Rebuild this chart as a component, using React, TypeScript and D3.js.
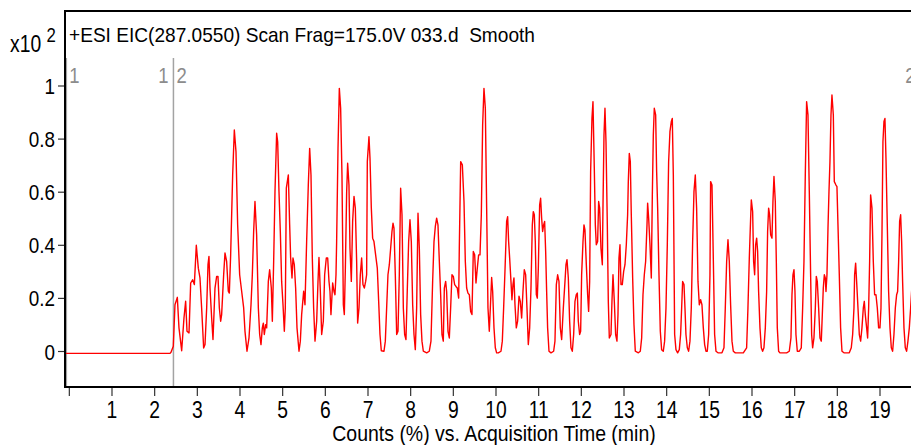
import React, { useEffect, useRef } from "react";
import * as d3 from "d3";

const width = 911;
const height = 445;
const frame = { left: 65, top: 11, right: 911, bottom: 387 };

// acquisition time (min) / counts (x10^2)
const retentionTime = [
  -0.1, 2.36, 2.383, 2.437, 2.476, 2.531, 2.57, 2.633, 2.687, 2.726, 2.758, 2.805, 2.844, 2.89, 2.93,
  2.976, 3.023, 3.062, 3.101, 3.148, 3.18, 3.219, 3.25, 3.273, 3.297, 3.336, 3.367, 3.414, 3.453,
  3.484, 3.516, 3.547, 3.57, 3.617, 3.648, 3.687, 3.726, 3.75, 3.781, 3.828, 3.867, 3.906, 3.945,
  3.992, 4.039, 4.086, 4.117, 4.164, 4.211, 4.258, 4.289, 4.32, 4.351, 4.39, 4.43, 4.461, 4.492,
  4.523, 4.547, 4.57, 4.601, 4.625, 4.664, 4.695, 4.734, 4.758, 4.789, 4.82, 4.859, 4.883, 4.914,
  4.945, 4.976, 5.008, 5.039, 5.062, 5.086, 5.133, 5.164, 5.187, 5.219, 5.242, 5.273, 5.304, 5.336,
  5.383, 5.414, 5.445, 5.492, 5.523, 5.562, 5.601, 5.633, 5.664, 5.695, 5.726, 5.758, 5.797, 5.828,
  5.851, 5.883, 5.914, 5.953, 5.984, 6.023, 6.055, 6.086,
  6.109, 6.132, 6.172, 6.203, 6.226, 6.25, 6.265, 6.297, 6.328, 6.359, 6.39, 6.422, 6.445, 6.468,
  6.5, 6.523, 6.554, 6.578, 6.609, 6.64, 6.672, 6.703, 6.734, 6.757, 6.789, 6.82, 6.851, 6.882,
  6.914, 6.945, 6.968, 6.984, 7.023, 7.047, 7.078, 7.109, 7.14, 7.179, 7.218, 7.25, 7.281, 7.312,
  7.375, 7.406, 7.437, 7.468, 7.5, 7.531, 7.562, 7.586, 7.609, 7.64, 7.672, 7.703, 7.734, 7.765,
  7.797, 7.828, 7.859, 7.89, 7.922, 7.953, 7.984, 8.015, 8.047, 8.078, 8.109, 8.14, 8.172, 8.203,
  8.234, 8.265, 8.297, 8.375, 8.437, 8.476, 8.515, 8.547, 8.578, 8.609, 8.64, 8.672, 8.703, 8.734,
  8.765, 8.789, 8.82, 8.843, 8.875, 8.906, 8.937, 8.968, 9.0, 9.031, 9.062, 9.093, 9.125, 9.14,
  9.172, 9.211, 9.25, 9.281, 9.312, 9.343, 9.375, 9.406, 9.437, 9.468, 9.5, 9.531, 9.562, 9.593,
  9.625, 9.656, 9.687, 9.718, 9.75, 9.781, 9.812, 9.843, 9.867, 9.898, 9.922, 9.953, 9.984, 10.015,
  10.054, 10.117, 10.148, 10.179, 10.21, 10.249, 10.273, 10.296, 10.32, 10.351, 10.374, 10.398,
  10.421, 10.445, 10.476, 10.507, 10.539, 10.57, 10.601, 10.632, 10.663, 10.695, 10.726, 10.757,
  10.789, 10.82, 10.851, 10.874, 10.898, 10.921, 10.945, 10.968, 10.992, 11.023, 11.046, 11.07,
  11.093, 11.117, 11.14, 11.164, 11.187, 11.21, 11.242, 11.289, 11.351, 11.382, 11.414, 11.445,
  11.476, 11.507, 11.539, 11.578, 11.617, 11.64, 11.664, 11.695, 11.726, 11.757, 11.789, 11.82,
  11.851, 11.882, 11.906, 11.929, 11.96, 11.984, 12.007, 12.039, 12.062, 12.085, 12.117, 12.148,
  12.171, 12.195, 12.218, 12.249, 12.273, 12.304, 12.328, 12.351, 12.382, 12.406, 12.429, 12.46,
  12.492, 12.507, 12.531, 12.554, 12.578, 12.609, 12.632, 12.656, 12.695, 12.718, 12.742, 12.773,
  12.804, 12.835, 12.859, 12.882, 12.906, 12.929, 12.96, 12.992, 13.023, 13.054, 13.085, 13.101,
  13.124, 13.148, 13.171, 13.203, 13.234, 13.265, 13.336, 13.382, 13.414, 13.445, 13.476, 13.507,
  13.539, 13.554, 13.578, 13.609, 13.64, 13.664, 13.687, 13.71, 13.742, 13.765, 13.789, 13.82,
  13.851, 13.882,
  13.921, 13.952, 13.984, 14.015, 14.046, 14.077, 14.109, 14.132, 14.156, 14.187, 14.218, 14.257,
  14.296, 14.327, 14.351, 14.374, 14.406, 14.429, 14.452, 14.484, 14.515, 14.546, 14.577, 14.609,
  14.64, 14.671, 14.702, 14.734, 14.765, 14.796, 14.827, 14.859, 14.89, 14.921, 14.952, 14.984,
  15.015, 15.03, 15.062, 15.093, 15.124, 15.156, 15.202, 15.296, 15.343, 15.374, 15.406, 15.437,
  15.468, 15.499, 15.531, 15.562, 15.609, 15.796, 15.874, 15.905, 15.937, 15.968, 15.984, 16.015,
  16.038, 16.062, 16.085, 16.109, 16.132, 16.155, 16.187, 16.218, 16.249, 16.28, 16.312, 16.343,
  16.366, 16.39, 16.413, 16.437, 16.468, 16.491, 16.515, 16.546, 16.57, 16.593, 16.624, 16.655,
  16.812, 16.874, 16.913, 16.937, 16.96, 16.984, 17.007, 17.03, 17.062, 17.109, 17.155, 17.187,
  17.218, 17.249, 17.28, 17.312, 17.343, 17.374, 17.398, 17.421, 17.452, 17.484, 17.507, 17.53,
  17.562, 17.593, 17.624, 17.648, 17.671, 17.695, 17.718,
  17.734, 17.757, 17.781, 17.804, 17.827, 17.851, 17.874, 17.906, 17.929, 17.968, 17.991, 18.015,
  18.046, 18.077, 18.109, 18.155, 18.28, 18.327, 18.359, 18.39, 18.405, 18.429, 18.452, 18.484,
  18.515, 18.546, 18.577, 18.609, 18.632, 18.655, 18.687, 18.71, 18.734, 18.757, 18.78, 18.812,
  18.843, 18.874, 18.905, 18.937, 18.968, 18.999, 19.023, 19.046, 19.069, 19.093, 19.116, 19.14,
  19.171, 19.202, 19.234, 19.265, 19.296, 19.327, 19.359, 19.39, 19.413, 19.437, 19.46, 19.484,
  19.507, 19.53, 19.562, 19.593, 19.624, 19.655, 19.687, 19.718, 19.75,
];

const relCounts = [
  -0.007, -0.007, -0.003, 0.02, 0.176, 0.204, 0.089, 0.003, 0.126, 0.189, 0.076, 0.07, 0.258, 0.27, 0.252,
  0.4, 0.314, 0.277, 0.164, 0.013, 0.026, 0.164, 0.327, 0.358, 0.239, 0.126, 0.045, 0.239, 0.283,
  0.283, 0.164, 0.114, 0.139, 0.289, 0.371, 0.339, 0.227, 0.22, 0.364, 0.665, 0.834, 0.753, 0.477,
  0.289, 0.227, 0.164, 0.076, 0.001, 0.051, 0.176, 0.289, 0.452, 0.565, 0.44, 0.164, 0.064, 0.026,
  0.089, 0.107, 0.064, 0.101, 0.089, 0.264, 0.308, 0.239, 0.114, 0.339, 0.602, 0.822, 0.79, 0.602,
  0.452, 0.264, 0.176, 0.076, 0.164, 0.615, 0.665, 0.477, 0.352, 0.277, 0.352, 0.327, 0.239, 0.089,
  0.001, 0.039, 0.139, 0.227, 0.176, 0.414, 0.627, 0.765, 0.665, 0.352, 0.164, 0.039, 0.114, 0.264,
  0.354, 0.227, 0.064, 0.114, 0.289, 0.352, 0.352, 0.264,
  0.226, 0.139, 0.258, 0.226, 0.214, 0.289, 0.414, 0.765, 0.991, 0.916, 0.665, 0.176, 0.139, 0.302,
  0.602, 0.709, 0.627, 0.389, 0.264, 0.49, 0.584, 0.54, 0.339, 0.107, 0.164, 0.289, 0.352, 0.252,
  0.239, 0.264, 0.289, 0.715, 0.809, 0.728, 0.54, 0.427, 0.414, 0.364, 0.314, 0.189, 0.064, 0.003,
  0.001, 0.039, 0.164, 0.289, 0.327, 0.389, 0.452, 0.483, 0.465, 0.289, 0.064, 0.076, 0.289, 0.615,
  0.515, 0.164, 0.064, 0.045, 0.239, 0.414, 0.496, 0.414, 0.176, 0.064, 0.007, 0.164, 0.521, 0.389,
  0.139, 0.039, 0.001, -0.005, 0.001, 0.039, 0.264, 0.414, 0.471, 0.502, 0.477, 0.339, 0.214, 0.064,
  0.039, 0.239, 0.264, 0.226, 0.076, 0.051, 0.164, 0.289, 0.283, 0.252, 0.245, 0.239, 0.201, 0.389,
  0.715, 0.703, 0.565, 0.339, 0.239, 0.22, 0.214, 0.151, 0.139, 0.377, 0.364, 0.258, 0.314, 0.364,
  0.364, 0.515, 0.853, 0.991, 0.916, 0.54, 0.164, 0.076, 0.164, 0.279, 0.226, 0.089, 0.014, -0.005,
  -0.005, 0.001, 0.039, 0.164, 0.302, 0.49, 0.508, 0.414, 0.352, 0.264, 0.195, 0.252,
  0.277, 0.176, 0.089, 0.114, 0.208, 0.189, 0.126, 0.226, 0.308, 0.289, 0.164, 0.026,
  0.089, 0.239, 0.477, 0.527, 0.515, 0.414, 0.214, 0.201, 0.314, 0.552, 0.577, 0.502,
  0.452, 0.477, 0.49, 0.377, 0.226, 0.089, 0.001, -0.005, 0.001, 0.039, 0.252, 0.289,
  0.264, 0.089, 0.045, 0.164, 0.264, 0.327, 0.346, 0.277, 0.114, 0.014, 0.001, 0.064,
  0.189, 0.214, 0.22, 0.114, 0.064, 0.076, 0.289, 0.414, 0.477, 0.458, 0.327, 0.214,
  0.151, 0.264, 0.678, 0.878, 0.941, 0.69, 0.477, 0.402, 0.414, 0.565, 0.54, 0.389,
  0.327, 0.54, 0.815, 0.916, 0.79, 0.477, 0.189, 0.051, 0.064, 0.189, 0.289, 0.189,
  0.064, 0.039, 0.139, 0.352, 0.402, 0.252, 0.252, 0.302, 0.327, 0.402, 0.515, 0.64,
  0.746, 0.715, 0.515, 0.277, 0.101, 0.001, -0.005, 0.001, 0.051, 0.214, 0.289, 0.339,
  0.477, 0.559, 0.502, 0.402, 0.277, 0.59, 0.815, 0.916, 0.891, 0.678, 0.54, 0.289,
  0.076, 0.007,
  0.001, 0.039, 0.164, 0.402, 0.715, 0.828, 0.866, 0.878, 0.665, 0.064, 0.007, -0.005,
  0.007, 0.064, 0.164, 0.264, 0.252, 0.164, 0.064, 0.014, 0.001, 0.039, 0.164, 0.414,
  0.602, 0.665, 0.54, 0.264, 0.176, 0.195, 0.176, 0.089, 0.026, 0.001, 0.001, 0.064,
  0.289, 0.64, 0.627, 0.352, 0.064, 0.001, -0.005, -0.005, 0.014, 0.164, 0.339, 0.421,
  0.339, 0.176, 0.039, 0.001, -0.005, -0.005, 0.014, 0.164, 0.352, 0.502, 0.571, 0.527,
  0.339, 0.289, 0.402, 0.427, 0.377, 0.226, 0.089, 0.014, 0.001, 0.014, 0.089, 0.226,
  0.452, 0.54, 0.515, 0.44, 0.427, 0.565, 0.659, 0.565, 0.339, 0.089, 0.001, -0.005,
  -0.005, 0.001, 0.051, 0.214, 0.289, 0.308, 0.226, 0.064, 0.001, 0.001, 0.014, 0.164,
  0.339, 0.665, 0.941, 0.891, 0.602, 0.289, 0.064, 0.014, 0.051, 0.164, 0.283, 0.264,
  0.164, 0.051, 0.039, 0.139, 0.239, 0.289, 0.277,
  0.226, 0.289, 0.465, 0.602, 0.715, 0.891, 0.966, 0.891, 0.64, 0.627, 0.621, 0.477,
  0.289, 0.089, 0.001, -0.005, -0.005, 0.014, 0.064, 0.164, 0.289, 0.333, 0.264, 0.164,
  0.064, 0.039, 0.089, 0.164, 0.189, 0.139, 0.089, 0.051, 0.164, 0.339, 0.59, 0.54,
  0.339, 0.214, 0.214, 0.164, 0.089, 0.089, 0.164, 0.44, 0.79, 0.866, 0.878, 0.728,
  0.477, 0.226, 0.089, 0.014, 0.001, 0.064, 0.164, 0.214, 0.226, 0.339, 0.49, 0.515,
  0.414, 0.264, 0.089, 0.014, 0.001, 0.039, 0.089, 0.164, 0.25,
];

const xTickValues = d3.range(0, 20);
const yTickValues = [0, 0.2, 0.4, 0.6, 0.8, 1];
const yTickLabels = ["0", "0.2", "0.4", "0.6", "0.8", "1"];

// segment boundaries (min) and their labels
const segmentBreaks = [-0.07, 2.44, 19.95];
const segmentLabels = [
  { at: -0.07, text: "1", side: "right" },
  { at: 2.44, text: "1", side: "left" },
  { at: 2.44, text: "2", side: "right" },
  { at: 19.95, text: "2", side: "left" },
];

const titleText = "+ESI EIC(287.0550) Scan Frag=175.0V 033.d  Smooth";
const xAxisTitle = "Counts (%) vs. Acquisition Time (min)";

const font = "'Liberation Sans', Arial, sans-serif";
// the instrument font is a narrow sans, so squeeze the glyphs horizontally
const narrow = 0.84;

const place = (px, py, sx = narrow) => `translate(${px},${py}) scale(${sx},1)`;

const Chromatogram = () => {
  const ref = useRef(null);

  useEffect(() => {
    const svg = d3.select(ref.current);
    svg.selectAll("*").remove();

    const x = d3.scaleLinear().domain([0, 19]).range([69.33, 880]);
    const y = d3.scaleLinear().domain([0, 1]).range([351.5, 86]);

    svg
      .append("defs")
      .append("clipPath")
      .attr("id", "plot-clip")
      .append("rect")
      .attr("x", frame.left)
      .attr("y", frame.top)
      .attr("width", frame.right - frame.left)
      .attr("height", frame.bottom - frame.top);

    const plot = svg.append("g").attr("clip-path", "url(#plot-clip)");

    // segment lines
    plot
      .selectAll("line.seg")
      .data(segmentBreaks)
      .join("line")
      .attr("class", "seg")
      .attr("x1", (d) => x(d))
      .attr("x2", (d) => x(d))
      .attr("y1", 58)
      .attr("y2", frame.bottom)
      .attr("stroke", "#a3a3a3")
      .attr("stroke-width", 1.5);

    plot
      .selectAll("text.seg")
      .data(segmentLabels)
      .join("text")
      .attr("class", "seg")
      .attr("transform", (d) =>
        place(d.side === "right" ? x(d.at) + 3 : x(d.at) - 5, 83)
      )
      .attr("text-anchor", (d) => (d.side === "right" ? "start" : "end"))
      .attr("fill", "#8c8c8c")
      .attr("font-size", 22)
      .attr("font-family", font)
      .text((d) => d.text);

    // trace
    const points = retentionTime.map((t, i) => [t, relCounts[i]]);
    plot
      .append("path")
      .datum(points)
      .attr("fill", "none")
      .attr("stroke", "#ff0000")
      .attr("stroke-width", 1.4)
      .attr("stroke-linejoin", "round")
      .attr(
        "d",
        d3
          .line()
          .x((d) => x(d[0]))
          .y((d) => y(d[1]))
      );

    // frame
    svg
      .append("path")
      .attr(
        "d",
        `M${frame.right},${frame.top}H${frame.left}V${frame.bottom}H${frame.right}`
      )
      .attr("fill", "none")
      .attr("stroke", "#000")
      .attr("stroke-width", 2);

    // x axis ticks
    const xg = svg.append("g");
    xg.selectAll("line")
      .data(xTickValues)
      .join("line")
      .attr("x1", (d) => x(d))
      .attr("x2", (d) => x(d))
      .attr("y1", frame.bottom + 1)
      .attr("y2", frame.bottom + 9)
      .attr("stroke", "#333")
      .attr("stroke-width", 1.2);
    xg.selectAll("text")
      .data(xTickValues.filter((d) => d > 0))
      .join("text")
      .attr("transform", (d) => place(x(d), 418))
      .attr("text-anchor", "middle")
      .attr("font-size", 23)
      .attr("font-family", font)
      .text((d) => d);

    // y axis ticks
    const yg = svg.append("g");
    yg.selectAll("line")
      .data(yTickValues)
      .join("line")
      .attr("x1", frame.left - 7)
      .attr("x2", frame.left - 1)
      .attr("y1", (d) => y(d))
      .attr("y2", (d) => y(d))
      .attr("stroke", "#333")
      .attr("stroke-width", 1.2);
    yg.selectAll("text")
      .data(yTickValues)
      .join("text")
      .attr("transform", (d) => place(55, y(d) + 8))
      .attr("text-anchor", "end")
      .attr("font-size", 22.5)
      .attr("font-family", font)
      .text((d, i) => yTickLabels[i]);

    // titles
    svg
      .append("text")
      .attr("transform", place(69, 42, 0.955))
      .attr("font-size", 20)
      .attr("font-family", font)
      .style("white-space", "pre")
      .text(titleText);

    const exp = svg
      .append("text")
      .attr("transform", place(10, 52))
      .attr("font-size", 23)
      .attr("font-family", font);
    exp.append("tspan").text("x10 ");
    exp.append("tspan").attr("dy", -10).attr("font-size", 20).text("2");

    svg
      .append("text")
      .attr("transform", place(494, 441, 0.885))
      .attr("text-anchor", "middle")
      .attr("font-size", 22)
      .attr("font-family", font)
      .text(xAxisTitle);
  }, []);

  return (
    <svg
      ref={ref}
      width={width}
      height={height}
      style={{ position: "absolute", left: 0, top: 0, background: "#fff" }}
    />
  );
};

export default function App() {
  return <Chromatogram />;
}
